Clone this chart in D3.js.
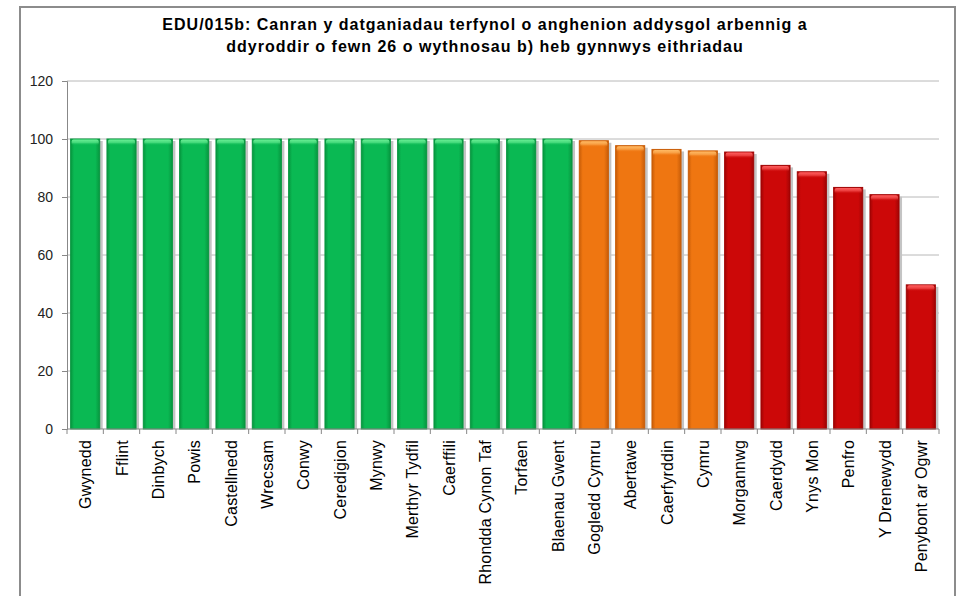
<!DOCTYPE html>
<html>
<head>
<meta charset="utf-8">
<script src="https://cdn.jsdelivr.net/npm/d3@7"></script>
<style>
  body { margin: 0; background: #fff; }
  svg { display: block; font-family: Arial, "Liberation Sans", sans-serif; }
</style>
</head>
<body>
<svg id="chart" width="961" height="596"></svg>
<script>
const categories = ["Gwynedd", "Fflint", "Dinbych", "Powis", "Castellnedd", "Wrecsam", "Conwy",
    "Ceredigion", "Mynwy", "Merthyr Tydfil", "Caerffili", "Rhondda Cynon Taf", "Torfaen",
    "Blaenau Gwent", "Gogledd Cymru", "Abertawe", "Caerfyrddin", "Cymru", "Morgannwg",
    "Caerdydd", "Ynys Mon", "Penfro", "Y Drenewydd", "Penybont ar Ogwr"]
const values = [100, 100, 100, 100, 100, 100, 100, 100, 100, 100, 100, 100, 100, 100,
    99.4, 97.7, 96.4, 95.9, 95.5, 90.9, 88.7, 83.3, 80.8, 49.7]
// traffic light group for each bar
const groups = ["g", "g", "g", "g", "g", "g", "g", "g", "g", "g", "g", "g", "g", "g",
    "o", "o", "o", "o", "r", "r", "r", "r", "r", "r"]
const yTicks = [0, 20, 40, 60, 80, 100, 120]
const titleLines = ["EDU/015b: Canran y datganiadau terfynol o anghenion addysgol arbennig a",
    "ddyroddir o fewn 26 o wythnosau b) heb gynnwys eithriadau"]

const palette = {
    g: {base: "#0ab953", dark: "#07963f", light: "#6cf096"},
    o: {base: "#ef7611", dark: "#c85d08", light: "#ffbb66"},
    r: {base: "#cc0808", dark: "#a00404", light: "#ff6060"}
}

const plotLeft = 67, plotRight = 939, plotTop = 81, plotBottom = 429

const svg = d3.select("#chart")

// outer frame
svg.append("rect")
    .attr("x", 20).attr("y", 7)
    .attr("width", 935).attr("height", 620)
    .attr("fill", "#fff")
    .attr("stroke", "#8c8c8c")
    .attr("stroke-width", 2)

svg.append("g")
    .selectAll("text")
    .data(titleLines)
    .join("text")
    .attr("x", 485)
    .attr("y", (d, i) => 29.5 + i * 22)
    .attr("text-anchor", "middle")
    .attr("font-size", 16)
    .attr("font-weight", "bold")
    .attr("letter-spacing", 1)
    .attr("fill", "#000")
    .text(d => d)

const x = d3.scaleBand()
    .domain(categories)
    .range([plotLeft, plotRight])
    .paddingInner(0.2)
    .paddingOuter(0.1)

const y = d3.scaleLinear()
    .domain([0, 120])
    .range([plotBottom, plotTop])

// gradients
const defs = svg.append("defs")
Object.entries(palette).forEach(([k, c]) => {
    const h = defs.append("linearGradient").attr("id", "side-" + k)
        .attr("x1", 0).attr("x2", 1).attr("y1", 0).attr("y2", 0)
    h.append("stop").attr("offset", 0).attr("stop-color", c.dark)
    h.append("stop").attr("offset", 0.12).attr("stop-color", c.base)
    h.append("stop").attr("offset", 0.85).attr("stop-color", c.base)
    h.append("stop").attr("offset", 1).attr("stop-color", c.dark)
    const v = defs.append("linearGradient").attr("id", "cap-" + k)
        .attr("x1", 0).attr("x2", 0).attr("y1", 0).attr("y2", 1)
    v.append("stop").attr("offset", 0).attr("stop-color", c.light)
    v.append("stop").attr("offset", 0.5).attr("stop-color", c.light).attr("stop-opacity", 0.6)
    v.append("stop").attr("offset", 1).attr("stop-color", c.base).attr("stop-opacity", 0)
})

// gridlines
svg.append("g")
    .selectAll("line")
    .data(yTicks.filter(d => d > 0))
    .join("line")
    .attr("x1", plotLeft).attr("x2", plotRight)
    .attr("y1", d => y(d)).attr("y2", d => y(d))
    .attr("stroke", "#b8b8b8")

// y axis
const yAxis = svg.append("g")
    .attr("transform", `translate(${plotLeft},0)`)
    .call(d3.axisLeft(y).tickValues(yTicks).tickSize(5).tickPadding(9))
yAxis.select(".domain").attr("stroke", "#888")
yAxis.selectAll(".tick line").attr("stroke", "#888")
yAxis.selectAll("text")
    .attr("font-size", 14)
    .attr("font-family", "Arial, 'Liberation Sans', sans-serif")
    .attr("fill", "#222")

const data = categories.map((c, i) => ({name: c, value: values[i], group: groups[i]}))

const bars = svg.append("g")
    .selectAll("g")
    .data(data)
    .join("g")

// soft shadow on the right
bars.append("rect")
    .attr("x", d => x(d.name) + 3)
    .attr("y", d => y(d.value) + 2)
    .attr("width", x.bandwidth())
    .attr("height", d => plotBottom - y(d.value) - 2)
    .attr("fill", "#c4c4c4")

bars.append("rect")
    .attr("x", d => x(d.name))
    .attr("y", d => y(d.value))
    .attr("width", x.bandwidth())
    .attr("height", d => plotBottom - y(d.value))
    .attr("fill", d => `url(#side-${d.group})`)
    .attr("stroke", d => palette[d.group].dark)
    .attr("stroke-width", 1)

bars.append("rect")
    .attr("x", d => x(d.name) + 1)
    .attr("y", d => y(d.value) + 0.5)
    .attr("width", x.bandwidth() - 2)
    .attr("height", 6)
    .attr("rx", 2)
    .attr("fill", d => `url(#cap-${d.group})`)

// x axis
svg.append("line")
    .attr("x1", plotLeft).attr("x2", plotRight)
    .attr("y1", plotBottom).attr("y2", plotBottom)
    .attr("stroke", "#888")

svg.append("g")
    .selectAll("line")
    .data(d3.range(categories.length + 1))
    .join("line")
    .attr("x1", i => plotLeft + i * x.step())
    .attr("x2", i => plotLeft + i * x.step())
    .attr("y1", plotBottom).attr("y2", plotBottom + 5)
    .attr("stroke", "#888")

svg.append("g")
    .selectAll("text")
    .data(categories)
    .join("text")
    .attr("transform", d => `translate(${x(d) + x.bandwidth() / 2 + 6},${plotBottom + 11}) rotate(-90)`)
    .attr("text-anchor", "end")
    .attr("font-size", 16)
    .attr("letter-spacing", 0.2)
    .attr("fill", "#000")
    .text(d => d)
</script>
</body>
</html>
